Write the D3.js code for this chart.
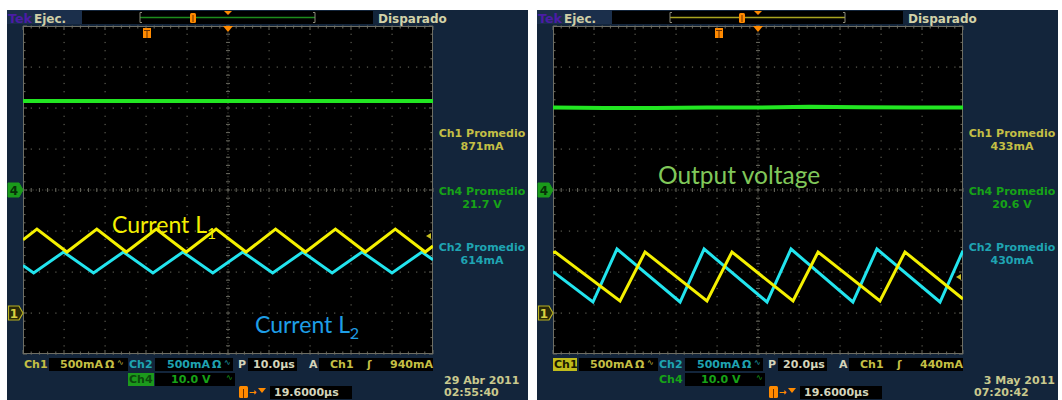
<!DOCTYPE html>
<html><head><meta charset="utf-8">
<script src="https://cdn.jsdelivr.net/npm/d3@7"></script>
<style>body{margin:0;background:#fff}svg{display:block}</style>
</head><body><svg id="c" width="1062" height="400"></svg>
<script>
// ---- data read from the two oscilloscope captures ----
// Left capture (10 µs/div, 100 µs window)
const l1Time = [0, 3.4, 10.7, 18.0, 25.2, 32.5, 39.8, 47.1, 54.4, 61.6, 68.9, 76.2, 83.5, 90.8, 98.1, 100];
const l1mA   = [893, 1024, 744, 1024, 744, 1024, 744, 1024, 744, 1024, 744, 1024, 744, 1024, 744, 817];
const l2Time = [0, 2.6, 9.9, 17.2, 24.5, 31.7, 39.0, 46.3, 53.6, 60.9, 68.2, 75.4, 82.7, 90.0, 97.3, 100];
const l2mA   = [579, 488, 744, 488, 744, 488, 744, 488, 744, 488, 744, 488, 744, 488, 744, 649];
const lVTime = [0, 50, 100];
const lVolt  = [21.7, 21.7, 21.7];
// Right capture (20 µs/div, 200 µs window)
const r1Time = [0, 1.0, 32.7, 44.9, 75.1, 87.3, 117.1, 129.3, 159.5, 171.7, 200];
const r1mA   = [735, 744, 146, 744, 146, 744, 146, 744, 146, 744, 171];
const r2Time = [0, 19.5, 31.2, 62.0, 73.7, 104.4, 116.1, 146.3, 158.0, 188.8, 200];
const r2mA   = [505, 134, 780, 134, 780, 134, 780, 134, 780, 134, 760];
const rVTime = [0, 25, 50, 75, 100, 125, 150, 175, 200];
const rVolt  = [20.1, 20.0, 20.0, 20.1, 20.1, 20.3, 20.2, 20.1, 20.1];
// readouts
const leftInfo  = ["871mA", "21.7 V", "614mA"];
const rightInfo = ["433mA", "20.6 V", "430mA"];
const infoTitles = ["Ch1 Promedio", "Ch4 Promedio", "Ch2 Promedio"];
const leftBottom  = ["10.0µs", "940mA", "29 Abr 2011", "02:55:40"];
const rightBottom = ["20.0µs", "440mA", "3 May 2011", "07:20:42"];
const trigLevels = [940, 440];

const svg = d3.select("#c");
const NAVY = "#13253b", FONT = "DejaVu Sans";
const C1T = "#c4bf45", C2T = "#1fa4b2", C4T = "#17a317", WT = "#d4d4bc";

function panel(ox, o) {
  const g = svg.append("g").attr("transform", `translate(${ox},0)`);
  g.append("rect").attr("x", 0).attr("y", 10).attr("width", 521).attr("height", 390).attr("fill", NAVY);
  // header
  g.append("rect").attr("x", 0).attr("y", 10).attr("width", 75).attr("height", 14).attr("fill", "#1b2f4b");
  g.append("text").attr("x", 1).attr("y", 22.5).attr("font-family", FONT).attr("font-size", 12).attr("font-weight", "bold")
    .attr("fill", "#4a1ca6").attr("textLength", 24).attr("lengthAdjust", "spacingAndGlyphs").text("Tek");
  g.append("text").attr("x", 27).attr("y", 22.5).attr("font-family", FONT).attr("font-size", 12).attr("font-weight", "bold")
    .attr("fill", "#cfcfa6").text("Ejec.");
  g.append("rect").attr("x", 75).attr("y", 11).attr("width", 291).attr("height", 13).attr("fill", "#000");
  g.append("line").attr("x1", 133).attr("x2", 308).attr("y1", 17.5).attr("y2", 17.5).attr("stroke", o.barColor).attr("stroke-width", 1.5);
  [133, 308].forEach((bx, i) => {
    g.append("path").attr("d", `M${bx + (i ? -2 : 2)},12.5 H${bx} V22.5 H${bx + (i ? -2 : 2)}`)
      .attr("fill", "none").attr("stroke", "#8a8a7a").attr("stroke-width", 1);
  });
  g.append("rect").attr("x", o.barMark - 3).attr("y", 13).attr("width", 6).attr("height", 10).attr("rx", 1.5).attr("fill", "#ff8a00");
  g.append("line").attr("x1", o.barMark).attr("x2", o.barMark).attr("y1", 15).attr("y2", 22).attr("stroke", "#6a3000").attr("stroke-width", 1);
  g.append("path").attr("d", "M217,11 L225,11 L221,15 Z").attr("fill", "#ff8a00");
  g.append("text").attr("x", 371).attr("y", 22.5).attr("font-family", FONT).attr("font-size", 12).attr("font-weight", "bold")
    .attr("fill", "#d2d2a8").text("Disparado");

  // graticule
  const gx0 = 16, gx1 = 426, gy0 = 26, gy1 = 354;
  const x = d3.scaleLinear().domain([0, o.span]).range([gx0, gx1]);
  const yI = d3.scaleLinear().domain([-500, 3500]).range([gy1, gy0]);  // Ch1/Ch2, 500 mA/div, ground 3 div below centre
  const yV = d3.scaleLinear().domain([-40, 40]).range([gy1, gy0]);      // Ch4, 10 V/div, ground at centre
  const yDiv = d3.scaleLinear().domain([-4, 4]).range([gy1, gy0]);
  const xDiv = d3.scaleLinear().domain([-5, 5]).range([gx0, gx1]);
  g.append("rect").attr("x", gx0).attr("y", gy0).attr("width", gx1 - gx0).attr("height", gy1 - gy0).attr("fill", "#000");
  const grid = g.append("g");
  for (let j = -4; j <= 4; j++) {
    if (j === 0) continue;
    for (let s = -25; s <= 25; s++) {
      if (s === -25 || s === 25) continue;
      grid.append("rect").attr("x", xDiv(s / 5) - 0.5).attr("y", yDiv(j) - 0.5).attr("width", 1.2).attr("height", 1.2).attr("fill", "#5e5e54");
    }
  }
  for (let i = -4; i <= 4; i++) {
    if (i === 0) continue;
    for (let s = -20; s <= 20; s++) {
      if (s === -20 || s === 20 || s % 5 === 0) continue;
      grid.append("rect").attr("x", xDiv(i) - 0.5).attr("y", yDiv(s / 5) - 0.5).attr("width", 1.2).attr("height", 1.2).attr("fill", "#5e5e54");
    }
  }
  grid.append("line").attr("x1", gx0).attr("x2", gx1).attr("y1", yDiv(0)).attr("y2", yDiv(0)).attr("stroke", "#5a5a50").attr("stroke-dasharray", "1,2.2");
  grid.append("line").attr("x1", xDiv(0)).attr("x2", xDiv(0)).attr("y1", gy0).attr("y2", gy1).attr("stroke", "#5a5a50").attr("stroke-dasharray", "1,2.2");
  for (let s = -25; s <= 25; s++) {
    grid.append("line").attr("x1", xDiv(s / 5)).attr("x2", xDiv(s / 5)).attr("y1", yDiv(0) - 2).attr("y2", yDiv(0) + 2).attr("stroke", "#6a6a60");
    grid.append("line").attr("x1", xDiv(s / 5)).attr("x2", xDiv(s / 5)).attr("y1", gy0).attr("y2", gy0 + (s % 5 === 0 ? 4 : 2.5)).attr("stroke", "#6a6a60");
    grid.append("line").attr("x1", xDiv(s / 5)).attr("x2", xDiv(s / 5)).attr("y1", gy1).attr("y2", gy1 - (s % 5 === 0 ? 4 : 2.5)).attr("stroke", "#6a6a60");
  }
  for (let s = -20; s <= 20; s++) {
    grid.append("line").attr("y1", yDiv(s / 5)).attr("y2", yDiv(s / 5)).attr("x1", xDiv(0) - 2).attr("x2", xDiv(0) + 2).attr("stroke", "#6a6a60");
    grid.append("line").attr("y1", yDiv(s / 5)).attr("y2", yDiv(s / 5)).attr("x1", gx0).attr("x2", gx0 + (s % 5 === 0 ? 4 : 2.5)).attr("stroke", "#6a6a60");
    grid.append("line").attr("y1", yDiv(s / 5)).attr("y2", yDiv(s / 5)).attr("x1", gx1).attr("x2", gx1 - (s % 5 === 0 ? 4 : 2.5)).attr("stroke", "#6a6a60");
  }
  g.append("rect").attr("x", gx0 + 0.5).attr("y", gy0 + 0.5).attr("width", gx1 - gx0 - 1).attr("height", gy1 - gy0 - 1)
    .attr("fill", "none").attr("stroke", "#6e6e64").attr("stroke-width", 1);

  // markers
  g.append("path").attr("d", `M${o.tMark - 4},28 h8 v10 h-8 Z`).attr("fill", "#ff8a00");
  g.append("line").attr("x1", o.tMark).attr("x2", o.tMark).attr("y1", 31).attr("y2", 38).attr("stroke", "#6a3000");
  g.append("line").attr("x1", o.tMark - 3).attr("x2", o.tMark + 3).attr("y1", 30.5).attr("y2", 30.5).attr("stroke", "#6a3000");
  g.append("path").attr("d", `M${xDiv(0) - 5},26 L${xDiv(0) + 5},26 L${xDiv(0)},32 Z`).attr("fill", "#ff8a00");
  const ty = yI(o.trig);
  g.append("path").attr("d", `M${gx1 - 7},${ty} L${gx1 - 2},${ty - 3} L${gx1 - 2},${ty + 3} Z`).attr("fill", "#c8c020");
  const m4 = yV(0), m1 = yI(0);
  g.append("path").attr("d", `M1,${m4 - 7} H12 L16,${m4} L12,${m4 + 7} H1 Z`).attr("fill", "#1a9a1a").attr("stroke", "#1a9a1a");
  g.append("text").attr("x", 7).attr("y", m4 + 4.5).attr("text-anchor", "middle").attr("font-family", FONT).attr("font-size", 12).attr("font-weight", "bold").attr("fill", "#083008").text("4");
  g.append("path").attr("d", `M1.5,${m1 - 7} H12 L16,${m1} L12,${m1 + 7} H1.5 Z`).attr("fill", "#2a2a08").attr("stroke", "#b8b020").attr("stroke-width", 1.2);
  g.append("text").attr("x", 7).attr("y", m1 + 4.5).attr("text-anchor", "middle").attr("font-family", FONT).attr("font-size", 12).attr("font-weight", "bold").attr("fill", "#d8d040").text("1");

  // traces
  const clip = "clip" + ox;
  g.append("clipPath").attr("id", clip).append("rect").attr("x", gx0).attr("y", gy0).attr("width", gx1 - gx0).attr("height", gy1 - gy0);
  const tr = g.append("g").attr("clip-path", `url(#${clip})`);
  const lineI = d3.line().x(d => x(d[0])).y(d => yI(d[1]));
  const lineV = d3.line().x(d => x(d[0])).y(d => yV(d[1]));
  tr.append("path").attr("d", lineV(d3.zip(o.vT, o.v))).attr("fill", "none").attr("stroke", "#22e622").attr("stroke-width", 4);
  tr.append("path").attr("d", lineI(d3.zip(o.c2T, o.c2))).attr("fill", "none").attr("stroke", "#22e4ee").attr("stroke-width", 3).attr("stroke-linejoin", "miter");
  tr.append("path").attr("d", lineI(d3.zip(o.c1T, o.c1))).attr("fill", "none").attr("stroke", "#f4f000").attr("stroke-width", 3).attr("stroke-linejoin", "miter");

  // right-side readouts
  const infoY = [137, 195, 251], infoC = [C1T, C4T, C2T];
  infoTitles.forEach((t, i) => {
    g.append("text").attr("x", 475).attr("y", infoY[i]).attr("text-anchor", "middle").attr("font-family", FONT).attr("font-size", 11).attr("font-weight", "bold").attr("fill", infoC[i]).text(t);
    g.append("text").attr("x", 475).attr("y", infoY[i] + 13).attr("text-anchor", "middle").attr("font-family", FONT).attr("font-size", 11).attr("font-weight", "bold").attr("fill", infoC[i]).text(o.info[i]);
  });

  // bottom readout rows
  const bt = (xx, yy, t, c, a) => g.append("text").attr("x", xx).attr("y", yy).attr("text-anchor", a || "start").attr("font-family", FONT)
    .attr("font-size", 11).attr("font-weight", "bold").attr("fill", c).text(t);
  const box = (xx, yy, w, c) => g.append("rect").attr("x", xx).attr("y", yy).attr("width", w).attr("height", 13).attr("fill", c || "#000");
  const r1 = 368, r2 = 383, r3 = 396;
  box(42, r1 - 10, 79); box(148, r1 - 10, 78); box(241, r1 - 10, 49); box(312, r1 - 10, 114);
  if (o.hl === 1) { box(16, r1 - 10, 24, "#c0bc1c"); bt(17, r1, "Ch1", "#1a1a00"); } else bt(17, r1, "Ch1", C1T);
  bt(53, r1, "500mA", C1T); bt(98, r1, "Ω", C1T);
  g.append("text").attr("x", 110).attr("y", r1 - 3).attr("font-family", FONT).attr("font-size", 8).attr("fill", C1T).text("∿");
  bt(122, r1, "Ch2", C2T);
  bt(160, r1, "500mA", C2T); bt(205, r1, "Ω", C2T);
  g.append("text").attr("x", 217).attr("y", r1 - 3).attr("font-family", FONT).attr("font-size", 8).attr("fill", C2T).text("∿");
  bt(231, r1, "P", WT); bt(246, r1, o.bottom[0], WT);
  bt(302, r1, "A", WT); bt(323, r1, "Ch1", C1T); bt(360, r1, "ʃ", C1T); bt(426, r1, o.bottom[1], C1T, "end");
  box(148, r2 - 10, 80);
  if (o.hl === 4) { box(121, r2 - 10, 26, "#1c9a1c"); bt(122, r2, "Ch4", "#0c4a0c"); } else bt(122, r2, "Ch4", C4T);
  bt(164, r2, "10.0 V", C4T);
  g.append("text").attr("x", 219).attr("y", r2 - 3).attr("font-family", FONT).attr("font-size", 8).attr("fill", C4T).text("∿");
  g.append("rect").attr("x", 232).attr("y", r3 - 10).attr("width", 9).attr("height", 12).attr("rx", 1.5).attr("fill", "#ff8a00");
  g.append("line").attr("x1", 236.5).attr("x2", 236.5).attr("y1", r3 - 7).attr("y2", r3 + 2).attr("stroke", "#6a3000");
  g.append("text").attr("x", 242).attr("y", r3 - 1).attr("font-family", FONT).attr("font-size", 9).attr("font-weight", "bold").attr("fill", "#ff8a00").text("→");
  g.append("path").attr("d", `M251,${r3 - 8} h8 l-4,5 Z`).attr("fill", "#ff8a00");
  box(263, r3 - 10, 82); bt(267, r3, "19.6000µs", WT);
  bt(o.dateX, 384, o.bottom[2], "#c9c98e", o.dateA); bt(o.dateX2, 396, o.bottom[3], "#c9c98e", o.dateA2);
  return {g, x, yI, yV};
}

const L = panel(7, {span: 100, barColor: "#1c8c1c", barMark: 186, tMark: 140, trig: trigLevels[0],
  c1T: l1Time, c1: l1mA, c2T: l2Time, c2: l2mA, vT: lVTime, v: lVolt, info: leftInfo, bottom: leftBottom, hl: 4,
  dateX: 437, dateA: "start", dateX2: 437, dateA2: "start"});
const R = panel(537, {span: 200, barColor: "#a8a420", barMark: 205, tMark: 182, trig: trigLevels[1],
  c1T: r1Time, c1: r1mA, c2T: r2Time, c2: r2mA, vT: rVTime, v: rVolt, info: rightInfo, bottom: rightBottom, hl: 1,
  dateX: 518, dateA: "end", dateX2: 437, dateA2: "start"});

// annotations
function label(g, xx, yy, t, sub, col, fs) {
  const tx = g.append("text").attr("x", xx).attr("y", yy).attr("font-family", "Lato").attr("font-size", fs).attr("fill", col);
  tx.append("tspan").text(t);
  if (sub) tx.append("tspan").attr("font-size", fs * 0.68).attr("dy", 6).text(sub);
}
label(svg, 112, 233, "Current L", "1", "#f4f000", 23);
label(svg, 255, 333, "Current L", "2", "#1e9ee6", 23);
label(svg, 658, 184, "Output voltage", null, "#80c85a", 24.5);
</script></body></html>
